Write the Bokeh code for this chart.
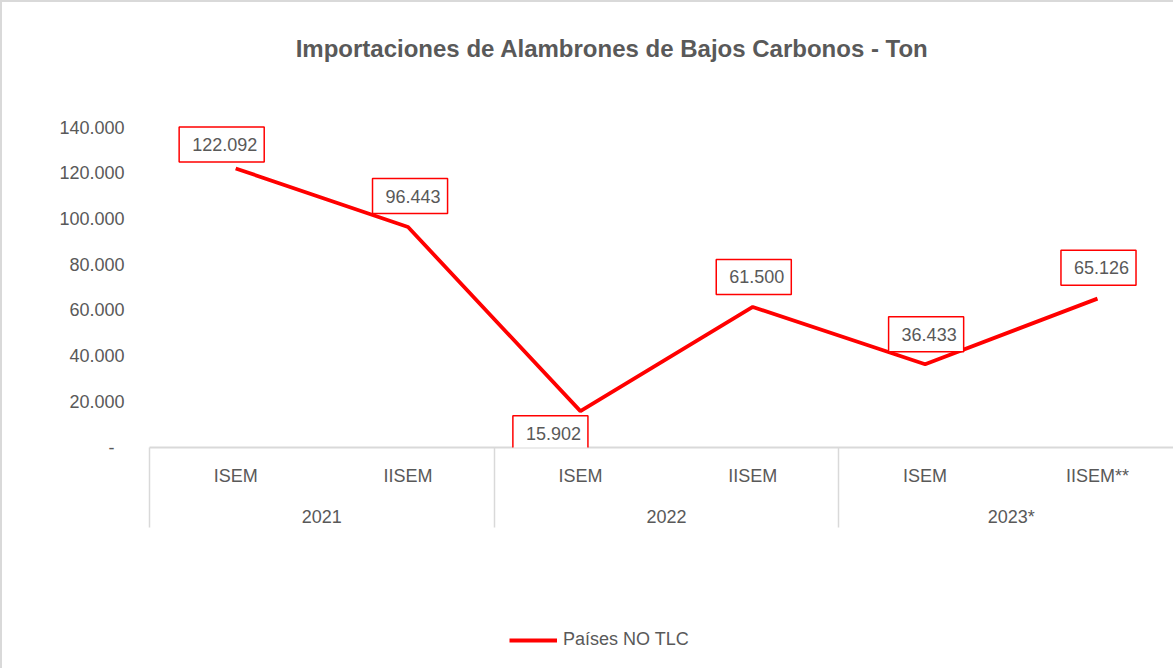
from bokeh.plotting import figure
from bokeh.layouts import column
from bokeh.models import (Range1d, LinearAxis, FixedTicker, Label, Legend, LegendItem)
from bokeh.embed import file_html
from bokeh.resources import INLINE

# ---- data ----
years = ["2021", "2021", "2022", "2022", "2023*", "2023*"]
semesters = ["ISEM", "IISEM", "ISEM", "IISEM", "ISEM", "IISEM**"]
series_name = "Países NO TLC"
values = [122092, 96443, 15902, 61500, 36433, 65126]
y_ticks = [0, 20000, 40000, 60000, 80000, 100000, 120000, 140000]
y_tick_labels = ["-\u00a0\u00a0", "20.000", "40.000", "60.000", "80.000", "100.000", "120.000", "140.000"]
title_text = "Importaciones de Alambrones de Bajos Carbonos  - Ton"

# ---- label placement styles (screen offsets) ----
label_dx = [-14, 2, -30, 1, 1, 1]
label_dy = [24, 31, -22, 30, 30, 31]

FONT = "Liberation Sans"
GRAY = "#595959"
RED = "#FF0000"
LIGHT = "#d9d9d9"
FS = "18px"

x = [i + 0.5 for i in range(len(semesters))]

# plot area: 320 px for 0..140000, frame extended upwards to hold the title
Y_TOP = 140000 * 445 / 320

p = figure(width=1171, height=535, output_backend="svg", toolbar_location=None,
           x_axis_location=None, y_axis_location=None,
           x_range=Range1d(0, 5.941), y_range=Range1d(0, Y_TOP),
           min_border_left=147, min_border_right=0, min_border_top=0,
           min_border_bottom=90)
p.outline_line_color = None
p.background_fill_color = "white"
p.border_fill_color = "white"
p.xgrid.visible = False
p.ygrid.visible = False

# y axis
yax = LinearAxis(ticker=FixedTicker(ticks=y_ticks, minor_ticks=[]),
                 major_label_overrides={t: l for t, l in zip(y_ticks, y_tick_labels)})
yax.axis_line_color = None
yax.major_tick_line_color = None
yax.minor_tick_line_color = None
yax.major_tick_out = 0
yax.minor_tick_out = 0
yax.major_label_standoff = 25
yax.major_label_text_font = FONT
yax.major_label_text_font_size = FS
yax.major_label_text_color = GRAY
p.add_layout(yax, "left")

# x axis: semesters (group separators drawn as minor ticks)
group_names = []
group_counts = []
for yv in years:
    if group_names and group_names[-1] == yv:
        group_counts[-1] += 1
    else:
        group_names.append(yv)
        group_counts.append(1)
bounds = [0]
for c in group_counts:
    bounds.append(bounds[-1] + c)
group_centers = [(bounds[i] + bounds[i + 1]) / 2 for i in range(len(group_counts))]

xax = LinearAxis(ticker=FixedTicker(ticks=x, minor_ticks=bounds),
                 major_label_overrides={t: l for t, l in zip(x, semesters)})
xax.axis_line_color = LIGHT
xax.axis_line_width = 2
xax.major_tick_line_color = None
xax.major_tick_out = 0
xax.major_tick_in = 0
xax.minor_tick_in = 0
xax.minor_tick_out = 80
xax.minor_tick_line_color = LIGHT
xax.minor_tick_line_width = 1.5
xax.major_label_standoff = -62
xax.major_label_text_font = FONT
xax.major_label_text_font_size = FS
xax.major_label_text_color = GRAY
p.add_layout(xax, "below")

gax = LinearAxis(ticker=FixedTicker(ticks=group_centers, minor_ticks=[]),
                 major_label_overrides={t: l for t, l in zip(group_centers, group_names)})
gax.axis_line_color = None
gax.major_tick_line_color = None
gax.minor_tick_line_color = None
gax.major_tick_out = 0
gax.major_tick_in = 0
gax.minor_tick_out = 0
gax.minor_tick_in = 0
gax.major_label_standoff = 18
gax.major_label_text_font = FONT
gax.major_label_text_font_size = FS
gax.major_label_text_color = GRAY
p.add_layout(gax, "below")

# line
r = p.line(x, values, line_color=RED, line_width=3.8)

# data labels
for xi, v, dx, dy in zip(x, values, label_dx, label_dy):
    txt = f"{v:,}".replace(",", ".")
    p.add_layout(Label(x=xi, y=v, text=txt, x_offset=dx, y_offset=dy,
                       text_align="center", text_baseline="middle",
                       text_font=FONT, text_font_size=FS, text_color=GRAY,
                       background_fill_color="white",
                       border_line_color=RED, border_line_width=1.5,
                       padding=(13, 7, 11, 11)))

# title (inside the upper, empty part of the frame)
p.add_layout(Label(x=466, y=399, x_units="screen", y_units="screen",
                   text=title_text, text_align="center", text_baseline="middle",
                   text_font=FONT, text_font_size="24px", text_font_style="bold",
                   text_color=GRAY))

# legend strip below the chart (same series styling; its line lies outside this strip's ranges)
lg = figure(width=1171, height=131, output_backend="svg", toolbar_location=None,
            x_axis_location=None, y_axis_location=None,
            x_range=Range1d(0, 1), y_range=Range1d(0, 1),
            min_border_left=0, min_border_right=0, min_border_top=0, min_border_bottom=0)
lg.outline_line_color = None
lg.background_fill_color = "white"
lg.border_fill_color = "white"
lg.xgrid.visible = False
lg.ygrid.visible = False
proxy = lg.line(x=x, y=values, line_color=RED, line_width=3.8)
legend = Legend(items=[LegendItem(label=series_name, renderers=[proxy])],
                location=(360, 18), orientation="horizontal",
                border_line_color=None, background_fill_alpha=0,
                margin=0, padding=0, glyph_width=48, label_standoff=6,
                label_text_font=FONT, label_text_font_size=FS,
                label_text_color=GRAY)
lg.add_layout(legend)

layout = column(p, lg, spacing=0,
                styles={"border-left": "2px solid #d9d9d9", "border-top": "2px solid #d9d9d9"})

open("out.html", "w").write(file_html(layout, INLINE))
